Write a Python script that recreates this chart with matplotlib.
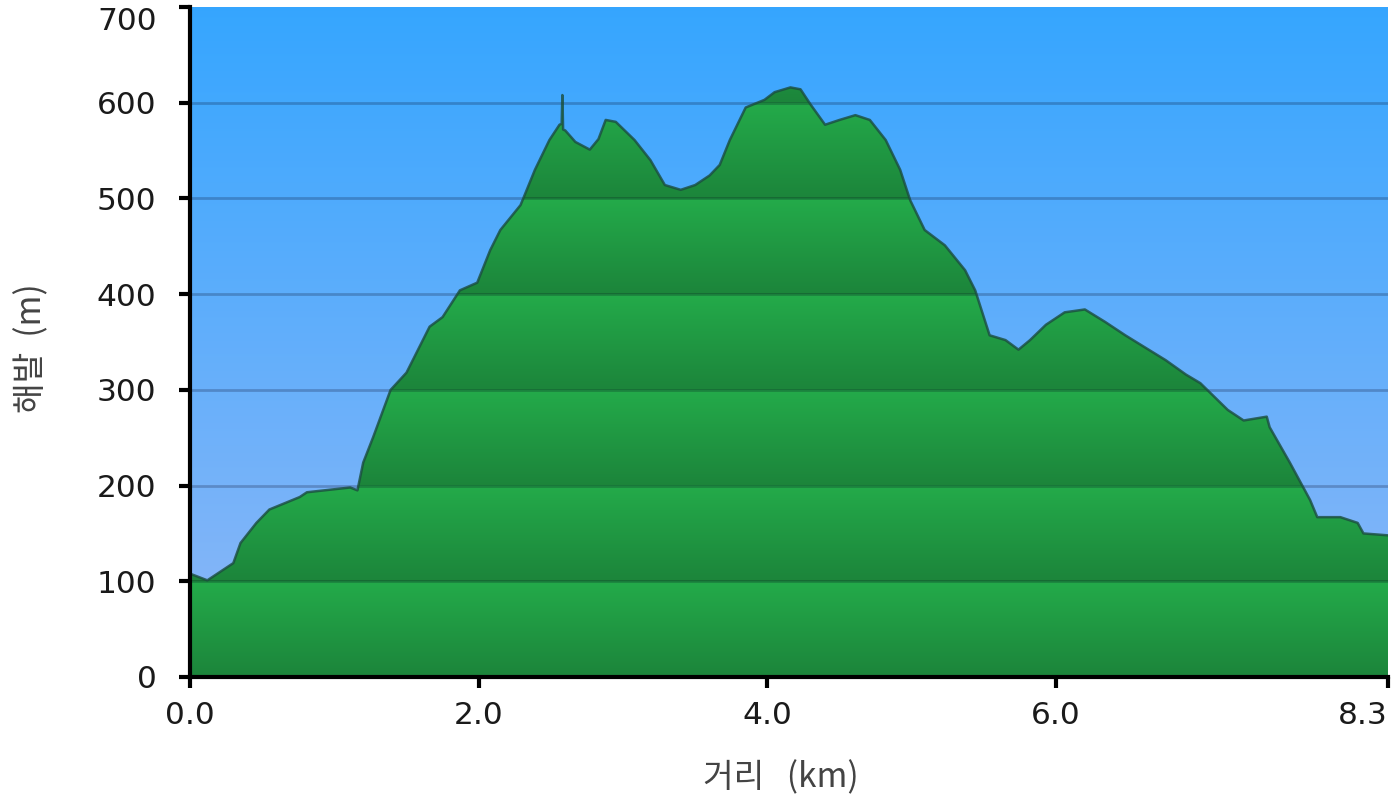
import numpy as np
import matplotlib
matplotlib.use("Agg")
import matplotlib.pyplot as plt
from matplotlib.patches import Polygon

plt.rcParams['font.family'] = ['DejaVu Sans']

# distance (km) and elevation (m)
dist = [0.00, 0.12, 0.30, 0.35, 0.46, 0.55, 0.76, 0.81, 1.11, 1.16, 1.20, 1.27,
        1.39, 1.50, 1.66, 1.75, 1.87, 1.99, 2.08, 2.15, 2.29, 2.39, 2.49, 2.56,
        2.575, 2.58, 2.585, 2.60, 2.67, 2.77, 2.83, 2.88, 2.95, 3.08, 3.19, 3.29,
        3.40, 3.50, 3.60, 3.67, 3.74, 3.85, 3.98, 4.05, 4.16, 4.23, 4.30, 4.40,
        4.50, 4.61, 4.71, 4.82, 4.92, 4.99, 5.09, 5.23, 5.37, 5.44, 5.54, 5.65,
        5.74, 5.82, 5.93, 6.06, 6.20, 6.34, 6.48, 6.62, 6.76, 6.90, 7.00, 7.19,
        7.30, 7.46, 7.48, 7.62, 7.76, 7.81, 7.97, 8.09, 8.13, 8.30]
elev = [108, 101, 119, 140, 161, 175, 188, 193, 198, 195, 224, 251,
        300, 318, 366, 376, 404, 412, 446, 467, 493, 530, 561, 577,
        578, 608, 572, 571, 559, 551, 562, 582, 580, 561, 540, 514,
        509, 514, 524, 535, 561, 595, 603, 611, 616, 614, 598, 577,
        582, 587, 582, 561, 530, 498, 467, 451, 425, 404, 357, 352,
        342, 352, 368, 381, 384, 371, 357, 344, 331, 316, 307, 279,
        268, 272, 261, 224, 185, 167, 167, 161, 150, 148]

xticks = [0, 2, 4, 6, 8.3]
xtick_labels = ['0.0', '2.0', '4.0', '6.0', '8.3']
yticks = [0, 100, 200, 300, 400, 500, 600, 700]

fig = plt.figure(figsize=(14, 7.99), dpi=100)
ax = fig.add_axes([190/1400, 1-677/799, 1198/1400, 670/799])
ax.set_xlim(0, 8.3)
ax.set_ylim(0, 700)

# sky background gradient
n = 1400
yy = np.linspace(700, 0, n)
t = ((700 - yy) / 700)[:, None]
top = np.array([0.21, 0.65, 1.0])
bot = np.array([0.56, 0.72, 0.97])
bg = (top * (1 - t) + bot * t)[:, None, :]
ax.imshow(bg, extent=[0, 8.3, 0, 700], aspect='auto', zorder=0, interpolation='bilinear')

# banded green fill
frac = ((yy % 100) / 100)[:, None]
light = np.array([0.14, 0.67, 0.29])
dark = np.array([0.11, 0.52, 0.23])
g = (dark * (1 - frac) + light * frac)[:, None, :]
im = ax.imshow(g, extent=[0, 8.3, 0, 700], aspect='auto', zorder=1, interpolation='bilinear')
verts = [(dist[0], 0)] + list(zip(dist, elev)) + [(dist[-1], 0)]
poly = Polygon(verts, closed=True, transform=ax.transData, facecolor='none', edgecolor='none')
ax.add_patch(poly)
im.set_clip_path(poly)

ax.plot(dist, elev, color='#1b4d3e', lw=1.8, alpha=0.8, zorder=3)

for v in yticks[1:-1]:
    ax.axhline(v, color=(0, 0, 0.1, 0.22), lw=2, zorder=2.5)

for s in ['top', 'right']:
    ax.spines[s].set_visible(False)
for s in ['left', 'bottom']:
    ax.spines[s].set_linewidth(3)
    ax.spines[s].set_color('black')
    ax.spines[s].set_zorder(5)

ax.set_xticks(xticks)
ax.set_xticklabels(xtick_labels)
ax.set_yticks(yticks)
ax.tick_params(axis='both', direction='out', length=8, width=3, colors='black',
               labelsize=22.5, labelcolor='#1a1a1a')
ax.tick_params(axis='y', pad=16)
ax.tick_params(axis='x', pad=9)
ax.get_yticklabels()[-1].set_va('top')
ax.get_xticklabels()[-1].set_ha('right')

fig.text(32/1400, 1-348/799, '해발  (m)', rotation=90, ha='center', va='center',
         fontsize=24, color='#444444', family=['Noto Sans CJK KR', 'DejaVu Sans'])
fig.text(781/1400, 1-778/799, '거리   (km)', ha='center', va='center',
         fontsize=24, color='#444444', family=['Noto Sans CJK KR', 'DejaVu Sans'])

fig.savefig('out.png', dpi=100)
